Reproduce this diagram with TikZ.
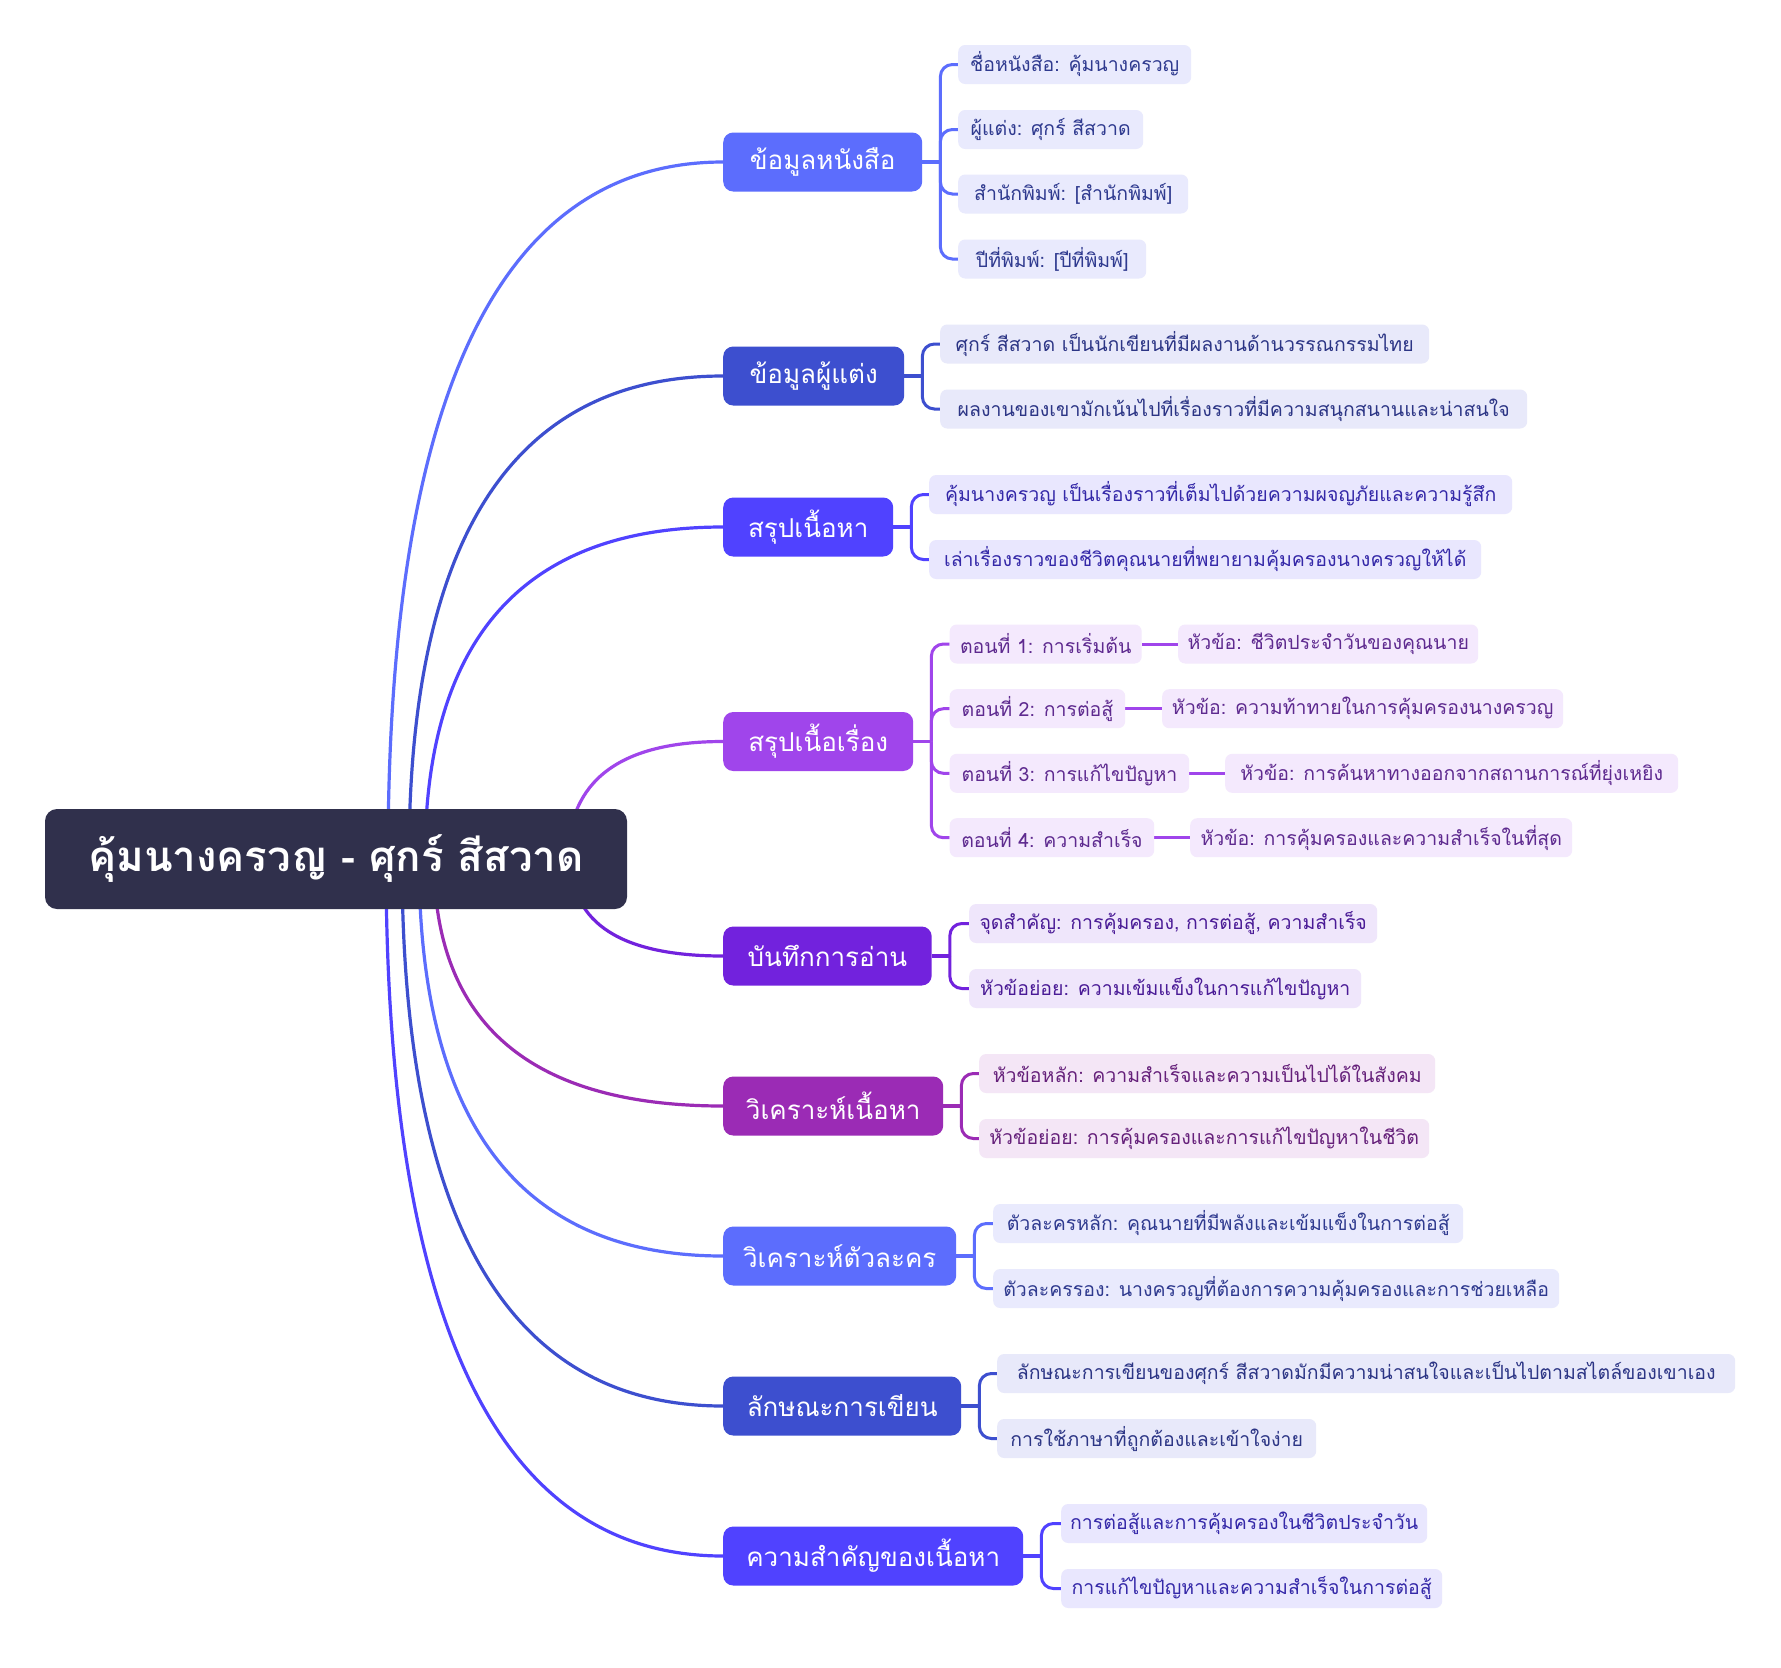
\documentclass[tikz,border=0pt]{standalone}
\usepackage{fontspec}
\newfontfamily\thaifont[Script=Thai]{Loma}
\usetikzlibrary{backgrounds,calc}
\definecolor{rootc}{HTML}{30304C}
\definecolor{cA}{HTML}{5C6DFD}
\definecolor{cB}{HTML}{3D4FCF}
\definecolor{cC}{HTML}{5042FF}
\definecolor{cD}{HTML}{A045EB}
\definecolor{cE}{HTML}{7222DD}
\definecolor{cF}{HTML}{9B2BB5}
\definecolor{lA}{HTML}{E9EAFD}
\definecolor{lB}{HTML}{E8E9FA}
\definecolor{lC}{HTML}{E9E7FE}
\definecolor{lD}{HTML}{F4E9FD}
\definecolor{lE}{HTML}{EFE6FB}
\definecolor{lF}{HTML}{F4E6F6}
\definecolor{tA}{HTML}{2F3A8F}
\definecolor{tB}{HTML}{2C3585}
\definecolor{tC}{HTML}{3428A8}
\definecolor{tD}{HTML}{5E2A8F}
\definecolor{tE}{HTML}{4A1B96}
\definecolor{tF}{HTML}{65207A}
\begin{document}
\begin{tikzpicture}[x=1pt,y=-1pt,
  rootbox/.style={fill=rootc, rounded corners=12pt, text=white, font=\thaifont\bfseries\fontsize{42}{50}\selectfont, minimum width=582pt, minimum height=100pt, inner sep=0pt},
  branchbox/.style={rounded corners=10pt, text=white, font=\thaifont\fontsize{26}{30}\selectfont, minimum height=59pt, inner sep=0pt, anchor=west},
  leafbox/.style={rounded corners=7pt, font=\thaifont\fontsize{19.5}{24}\selectfont, minimum height=39pt, inner sep=0pt, anchor=west},
  bA/.style={branchbox, fill=cA}, bB/.style={branchbox, fill=cB}, bC/.style={branchbox, fill=cC},
  bD/.style={branchbox, fill=cD}, bE/.style={branchbox, fill=cE}, bF/.style={branchbox, fill=cF},
  leA/.style={leafbox, fill=lA, text=tA}, leB/.style={leafbox, fill=lB, text=tB}, leC/.style={leafbox, fill=lC, text=tC},
  leD/.style={leafbox, fill=lD, text=tD}, leE/.style={leafbox, fill=lE, text=tE}, leF/.style={leafbox, fill=lF, text=tF},
  conn/.style={draw=#1, line width=3.2pt},
  bracket/.style={draw=#1, line width=3pt, rounded corners=12pt}
]
\useasboundingbox (0,0) rectangle (1781,1668);

% root
\node[rootbox] (root) at (336,859) {คุ้มนางครวญ - ศุกร์ สีสวาด};

% branches
\node[bA, minimum width=199pt] (b1) at (723,162) {ข้อมูลหนังสือ};
\node[bB, minimum width=181pt] (b2) at (723,376) {ข้อมูลผู้แต่ง};
\node[bC, minimum width=170pt] (b3) at (723,527) {สรุปเนื้อหา};
\node[bD, minimum width=190pt] (b4) at (723,741.5) {สรุปเนื้อเรื่อง};
\node[bE, minimum width=208.5pt] (b5) at (723,956) {บันทึกการอ่าน};
\node[bF, minimum width=220pt] (b6) at (723,1106) {วิเคราะห์เนื้อหา};
\node[bA, minimum width=233pt] (b7) at (723,1256) {วิเคราะห์ตัวละคร};
\node[bB, minimum width=238pt] (b8) at (723,1406) {ลักษณะการเขียน};
\node[bC, minimum width=300pt] (b9) at (723,1556) {ความสำคัญของเนื้อหา};

% leaves b1
\node[leA, minimum width=233pt] (l1a) at (958,64.5) {ชื่อหนังสือ: คุ้มนางครวญ};
\node[leA, minimum width=185pt] (l1b) at (958,129.5) {ผู้แต่ง: ศุกร์ สีสวาด};
\node[leA, minimum width=230pt] (l1c) at (958,194) {สำนักพิมพ์: [สำนักพิมพ์]};
\node[leA, minimum width=188pt] (l1d) at (958,259) {ปีที่พิมพ์: [ปีที่พิมพ์]};
% leaves b2
\node[leB, minimum width=489pt] (l2a) at (940,344) {ศุกร์ สีสวาด เป็นนักเขียนที่มีผลงานด้านวรรณกรรมไทย};
\node[leB, minimum width=587pt] (l2b) at (940,409) {ผลงานของเขามักเน้นไปที่เรื่องราวที่มีความสนุกสนานและน่าสนใจ};
% leaves b3
\node[leC, minimum width=583pt] (l3a) at (929,494.5) {คุ้มนางครวญ เป็นเรื่องราวที่เต็มไปด้วยความผจญภัยและความรู้สึก};
\node[leC, minimum width=552pt] (l3b) at (929,559.5) {เล่าเรื่องราวของชีวิตคุณนายที่พยายามคุ้มครองนางครวญให้ได้};
% leaves b4
\node[leD, minimum width=192pt] (l4a) at (949.5,644) {ตอนที่ 1: การเริ่มต้น};
\node[leD, minimum width=175.5pt] (l4b) at (949.5,708.7) {ตอนที่ 2: การต่อสู้};
\node[leD, minimum width=239.5pt] (l4c) at (949.5,773.3) {ตอนที่ 3: การแก้ไขปัญหา};
\node[leD, minimum width=204.5pt] (l4d) at (949.5,837.7) {ตอนที่ 4: ความสำเร็จ};
\node[leD, minimum width=300pt] (m4a) at (1178,644) {หัวข้อ: ชีวิตประจำวันของคุณนาย};
\node[leD, minimum width=401pt] (m4b) at (1162,708.7) {หัวข้อ: ความท้าทายในการคุ้มครองนางครวญ};
\node[leD, minimum width=453pt] (m4c) at (1225,773.3) {หัวข้อ: การค้นหาทางออกจากสถานการณ์ที่ยุ่งเหยิง};
\node[leD, minimum width=382pt] (m4d) at (1190,837.7) {หัวข้อ: การคุ้มครองและความสำเร็จในที่สุด};
% leaves b5
\node[leE, minimum width=408pt] (l5a) at (969,923.5) {จุดสำคัญ: การคุ้มครอง, การต่อสู้, ความสำเร็จ};
\node[leE, minimum width=392pt] (l5b) at (969,988.5) {หัวข้อย่อย: ความเข้มแข็งในการแก้ไขปัญหา};
% leaves b6
\node[leF, minimum width=456pt] (l6a) at (979,1073.5) {หัวข้อหลัก: ความสำเร็จและความเป็นไปได้ในสังคม};
\node[leF, minimum width=450pt] (l6b) at (979,1138.5) {หัวข้อย่อย: การคุ้มครองและการแก้ไขปัญหาในชีวิต};
% leaves b7
\node[leA, minimum width=470pt] (l7a) at (993,1223.5) {ตัวละครหลัก: คุณนายที่มีพลังและเข้มแข็งในการต่อสู้};
\node[leA, minimum width=566pt] (l7b) at (993,1288.5) {ตัวละครรอง: นางครวญที่ต้องการความคุ้มครองและการช่วยเหลือ};
% leaves b8
\node[leB, minimum width=738pt] (l8a) at (997,1373.5) {ลักษณะการเขียนของศุกร์ สีสวาดมักมีความน่าสนใจและเป็นไปตามสไตล์ของเขาเอง};
\node[leB, minimum width=319pt] (l8b) at (997,1438.5) {การใช้ภาษาที่ถูกต้องและเข้าใจง่าย};
% leaves b9
\node[leC, minimum width=366pt] (l9a) at (1061,1523.5) {การต่อสู้และการคุ้มครองในชีวิตประจำวัน};
\node[leC, minimum width=381pt] (l9b) at (1061,1588.5) {การแก้ไขปัญหาและความสำเร็จในการต่อสู้};

% start points of main curves (hidden under the root)
\coordinate (s1) at (388,859);
\coordinate (s2) at (409,859);
\coordinate (s3) at (425,859);
\coordinate (s4) at (568,859);
\coordinate (s5) at (571,859);
\coordinate (s6) at (434,859);
\coordinate (s7) at (419,859);
\coordinate (s8) at (402,859);
\coordinate (s9) at (386,859);
% bracket junctions
\foreach \b in {1,...,9} {\coordinate (j\b) at ([xshift=18pt]b\b.east);}

\begin{pgfonlayer}{background}
\fill[white] (0,0) rectangle (1781,1668);
% quadratic curves written as cubics
\foreach \i/\c in {1/cA,2/cB,3/cC,4/cD,5/cE,6/cF,7/cA,8/cB,9/cC} {
  \draw[conn=\c] (s\i) .. controls ($(s\i)!0.6667!(s\i |- b\i.west)$) and ($(b\i.west)!0.6667!(s\i |- b\i.west)$) .. (b\i.west);
}

\draw[conn=cA] (b1.east) -- (j1);
\foreach \l in {l1a,l1b,l1c,l1d} {\draw[bracket=cA] (j1) |- (\l.west);}
\draw[conn=cB] (b2.east) -- (j2);
\foreach \l in {l2a,l2b} {\draw[bracket=cB] (j2) |- (\l.west);}
\draw[conn=cC] (b3.east) -- (j3);
\foreach \l in {l3a,l3b} {\draw[bracket=cC] (j3) |- (\l.west);}
\draw[conn=cD] (b4.east) -- (j4);
\foreach \l in {l4a,l4b,l4c,l4d} {\draw[bracket=cD] (j4) |- (\l.west);}
\draw[bracket=cD] (l4a.east) -- (m4a.west);
\draw[bracket=cD] (l4b.east) -- (m4b.west);
\draw[bracket=cD] (l4c.east) -- (m4c.west);
\draw[bracket=cD] (l4d.east) -- (m4d.west);
\draw[conn=cE] (b5.east) -- (j5);
\foreach \l in {l5a,l5b} {\draw[bracket=cE] (j5) |- (\l.west);}
\draw[conn=cF] (b6.east) -- (j6);
\foreach \l in {l6a,l6b} {\draw[bracket=cF] (j6) |- (\l.west);}
\draw[conn=cA] (b7.east) -- (j7);
\foreach \l in {l7a,l7b} {\draw[bracket=cA] (j7) |- (\l.west);}
\draw[conn=cB] (b8.east) -- (j8);
\foreach \l in {l8a,l8b} {\draw[bracket=cB] (j8) |- (\l.west);}
\draw[conn=cC] (b9.east) -- (j9);
\foreach \l in {l9a,l9b} {\draw[bracket=cC] (j9) |- (\l.west);}
\end{pgfonlayer}
\end{tikzpicture}
\end{document}
